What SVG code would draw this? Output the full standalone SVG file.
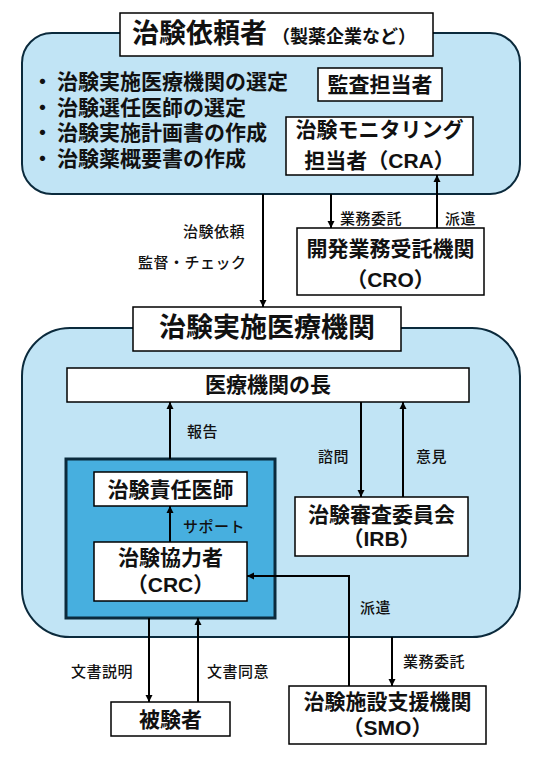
<svg xmlns="http://www.w3.org/2000/svg" width="543" height="762" viewBox="0 0 543 762">
<style>
.bg{fill:#C1E4F5;stroke:#0B2A3C;stroke-width:2}
.inner{fill:#47AFDF;stroke:#0B2A3C;stroke-width:3}
.box{fill:#FFFFFF;stroke:#000000;stroke-width:1.5}
.t{font-family:"Liberation Sans","Noto Sans CJK JP",sans-serif;font-weight:700;fill:#111111}
.big{font-size:27px}
.mid{font-size:21px}
.sub{font-size:18px}
.c{text-anchor:middle}
.lbl{font-family:"Noto Sans CJK JP",sans-serif;font-weight:500;font-size:15px;letter-spacing:0.5px;fill:#111111}
.ln{fill:none;stroke:#000000;stroke-width:2;marker-end:url(#ah)}
</style>
<defs>
<marker id="ah" markerUnits="userSpaceOnUse" markerWidth="8" markerHeight="8" refX="7" refY="4" orient="auto">
<path d="M0,0.5 L7,4 L0,7.5 z" fill="#000000"/>
</marker>
</defs>

<g id="sponsor">
<rect class="bg" x="22" y="33" width="498" height="161" rx="30" ry="30"/>
<rect class="box" x="120" y="13" width="313" height="43"/>
<text class="t big" x="132" y="43">治験依頼者</text>
<text class="t sub" x="272" y="43">（製薬企業など）</text>
<text class="t mid" x="32" y="89">・<tspan x="57">治験実施医療機関の選定</tspan></text>
<text class="t mid" x="32" y="115">・<tspan x="57">治験選任医師の選定</tspan></text>
<text class="t mid" x="32" y="140">・<tspan x="57">治験実施計画書の作成</tspan></text>
<text class="t mid" x="32" y="166">・<tspan x="57">治験薬概要書の作成</tspan></text>
</g>

<g id="auditor">
<rect class="box" x="318" y="68" width="124" height="33"/>
<text class="t mid c" x="380" y="92">監査担当者</text>
</g>

<g id="cra">
<rect class="box" x="286" y="117" width="187" height="58"/>
<text class="t mid c" x="379.5" y="137">治験モニタリング</text>
<text class="t mid c" x="379.5" y="168">担当者（CRA）</text>
</g>

<g id="cro">
<rect class="box" x="297" y="228" width="187" height="67"/>
<text class="t mid c" x="390.5" y="256">開発業務受託機関</text>
<text class="t mid c" x="390.5" y="287">（CRO）</text>
</g>

<g id="site">
<rect class="bg" x="22" y="328" width="498" height="309" rx="48" ry="48"/>
<rect class="box" x="133" y="307" width="268" height="44"/>
<text class="t big c" x="267" y="337">治験実施医療機関</text>
</g>

<g id="director">
<rect class="box" x="67" y="368" width="402" height="34"/>
<text class="t mid c" x="268" y="392">医療機関の長</text>
</g>

<g id="team">
<rect class="inner" x="66" y="459" width="209" height="159"/>
</g>

<g id="investigator">
<rect class="box" x="94" y="472" width="153" height="34"/>
<text class="t mid c" x="170.5" y="497">治験責任医師</text>
</g>

<g id="crc">
<rect class="box" x="94" y="542" width="153" height="59"/>
<text class="t mid c" x="170.5" y="565">治験協力者</text>
<text class="t mid c" x="170.5" y="592">（CRC）</text>
</g>

<g id="irb">
<rect class="box" x="295" y="497" width="173" height="59"/>
<text class="t mid c" x="381.5" y="522">治験審査委員会</text>
<text class="t mid c" x="381.5" y="546">（IRB）</text>
</g>

<g id="subject">
<rect class="box" x="111" y="702" width="119" height="34"/>
<text class="t mid c" x="170.5" y="727">被験者</text>
</g>

<g id="smo">
<rect class="box" x="289" y="686" width="197" height="58"/>
<text class="t mid c" x="387.5" y="709">治験施設支援機関</text>
<text class="t mid c" x="387.5" y="735">（SMO）</text>
</g>

<g id="connectors">
<line class="ln" x1="263" y1="194" x2="263" y2="307"/>
<line class="ln" x1="331" y1="194" x2="331" y2="228"/>
<line class="ln" x1="437" y1="228" x2="437" y2="175"/>
<line class="ln" x1="170" y1="459" x2="170" y2="402"/>
<line class="ln" x1="170" y1="542" x2="170" y2="506"/>
<line class="ln" x1="361" y1="402" x2="361" y2="497"/>
<line class="ln" x1="403" y1="497" x2="403" y2="402"/>
<line class="ln" x1="149" y1="618" x2="149" y2="702"/>
<line class="ln" x1="198" y1="702" x2="198" y2="618"/>
<polyline class="ln" points="349,686 349,576 247,576"/>
<line class="ln" x1="392" y1="637" x2="392" y2="686"/>
<text class="lbl" x="183" y="236.5">治験依頼</text>
<text class="lbl" x="138" y="267.5">監督・チェック</text>
<text class="lbl" x="340" y="223.5">業務委託</text>
<text class="lbl" x="445" y="223.5">派遣</text>
<text class="lbl" x="187" y="436.5">報告</text>
<text class="lbl" x="183" y="531.5">サポート</text>
<text class="lbl" x="318" y="461.5">諮問</text>
<text class="lbl" x="416" y="461.5">意見</text>
<text class="lbl" x="71" y="676.5">文書説明</text>
<text class="lbl" x="207" y="676.5">文書同意</text>
<text class="lbl" x="360" y="612.5">派遣</text>
<text class="lbl" x="403" y="666.5">業務委託</text>
</g>
</svg>
